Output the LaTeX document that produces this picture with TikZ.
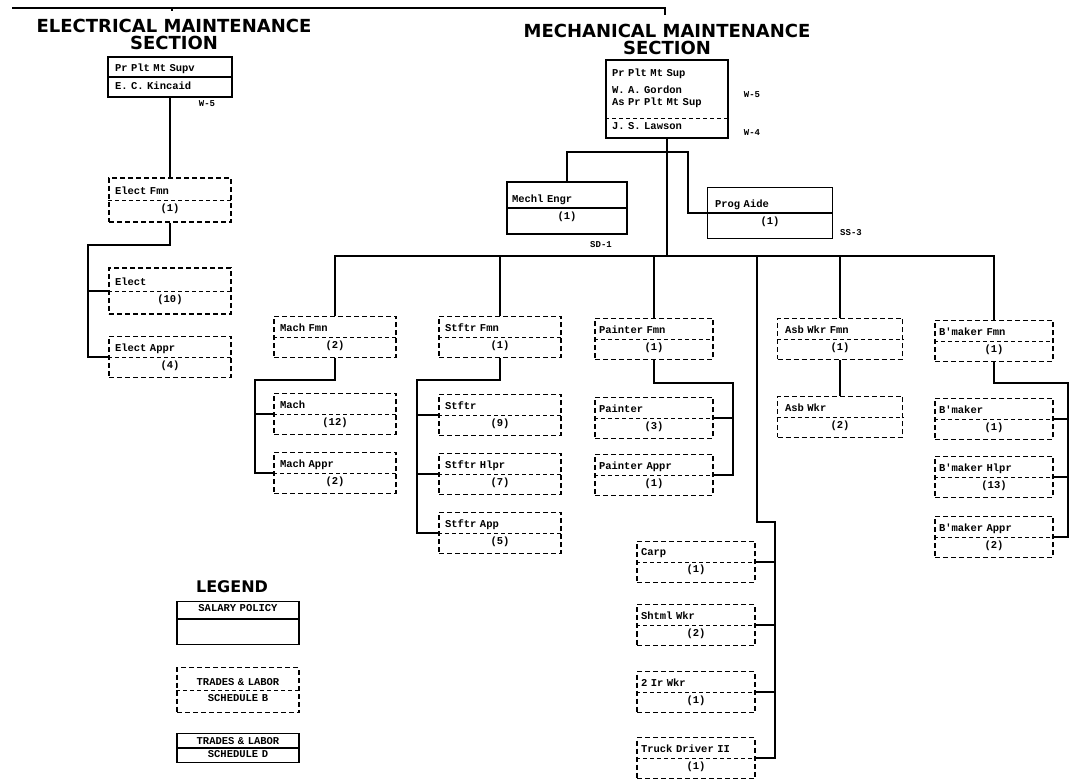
\documentclass[tikz,border=0pt]{standalone}
\usepackage{fontspec}
\setsansfont{DejaVu Sans}
\setmonofont{Liberation Mono}
\usetikzlibrary{positioning}

\newcommand{\jobtext}[2]{#1\\[5pt]\makebox[\hsize]{#2}}

\begin{document}
\begin{tikzpicture}[x=1pt,y=-1pt,node distance=59pt,on grid,
    every node/.style={font=\ttfamily\bfseries\fontsize{10.5}{12}\selectfont},
    wage/.style={draw,dashed,dash pattern=on 5pt off 3pt,line width=1.3pt,
        minimum width=122pt,minimum height=41pt,text width=110pt,align=left,inner sep=0pt},
    salary/.style={wage,solid},
    legendbox/.style={wage,align=center},
    divider/.style={line width=0.9pt,dash pattern=on 4pt off 3pt},
    grade/.style={font=\ttfamily\bfseries\fontsize{9}{10}\selectfont},
    heading/.style={font=\sffamily\bfseries\fontsize{18}{17}\selectfont,align=center},
    line/.style={line width=2.6pt}]
    \useasboundingbox (0,0) rectangle (1072,783);

    % section titles
    \node[heading] (etitle) at (174,34) {ELECTRICAL MAINTENANCE\\SECTION};
    \node[heading] (mtitle) at (667,39) {MECHANICAL MAINTENANCE\\SECTION};
    \coordinate (topl) at (12,8);
    \coordinate (topr) at (665,8);
    \coordinate (topt) at (172,8);
    \draw[line] (topl) -- (topr) -- ++(0,7);
    \draw[line] (topt) -- ++(0,3);

    % heads
    \node[salary,minimum width=124pt,minimum height=40pt] (ehead) at (170,77)
        {Pr Plt Mt Supv\\[6pt]E. C. Kincaid};
    \node[salary,minimum height=78pt] (mhead) at (667,99)
        {Pr Plt Mt Sup\\[5pt]W. A. Gordon\\As Pr Plt Mt Sup\\[12pt]J. S. Lawson};
    \node[grade] (ew5) at (207,104) {W-5};
    \node[grade] (mw5) at (752,95) {W-5};
    \node[grade] (mw4) at (752,133) {W-4};

    % staff
    \node[salary,minimum width=120pt,minimum height=52pt] (mengr) at (567,208) {\jobtext{Mechl Engr}{(1)}};
    \node[salary,minimum width=125pt,minimum height=51pt] (paide) at (770,213) {\jobtext{Prog Aide}{(1)}};
    \node[grade] (sd1) at (601,245) {SD-1};
    \node[grade] (ss3) at (851,233) {SS-3};

    % electrical
    \node[wage,minimum height=44pt] (efmn) at (170,200) {\jobtext{Elect Fmn}{(1)}};
    \node[wage,minimum height=46pt] (elect) at (170,291) {\jobtext{Elect}{(10)}};
    \node[wage] (eappr) [below=66pt of elect] {\jobtext{Elect Appr}{(4)}};

    % mechanical foremen
    \node[wage] (machf) at (335,337) {\jobtext{Mach Fmn}{(2)}};
    \node[wage] (stftrf) at (500,337) {\jobtext{Stftr Fmn}{(1)}};
    \node[wage,minimum width=118pt] (paintf) at (654,339) {\jobtext{Painter Fmn}{(1)}};
    \node[wage,minimum width=125pt] (asbf) at (840,339) {\jobtext{Asb Wkr Fmn}{(1)}};
    \node[wage,minimum width=118pt] (bmakf) at (994,341) {\jobtext{B'maker Fmn}{(1)}};

    % crews
    \node[wage] (mach) [below=77pt of machf] {\jobtext{Mach}{(12)}};
    \node[wage] (machap) [below=of mach] {\jobtext{Mach Appr}{(2)}};
    \node[wage] (stftr) [below=78pt of stftrf] {\jobtext{Stftr}{(9)}};
    \node[wage] (stftrh) [below=of stftr] {\jobtext{Stftr Hlpr}{(7)}};
    \node[wage] (stftra) [below=of stftrh] {\jobtext{Stftr App}{(5)}};
    \node[wage,minimum width=118pt] (paint) [below=79pt of paintf] {\jobtext{Painter}{(3)}};
    \node[wage,minimum width=118pt] (painta) [below=57pt of paint] {\jobtext{Painter Appr}{(1)}};
    \node[wage,minimum width=125pt] (asb) [below=78pt of asbf] {\jobtext{Asb Wkr}{(2)}};
    \node[wage,minimum width=118pt] (bmak) [below=78pt of bmakf] {\jobtext{B'maker}{(1)}};
    \node[wage,minimum width=118pt] (bmakh) [below=58pt of bmak] {\jobtext{B'maker Hlpr}{(13)}};
    \node[wage,minimum width=118pt] (bmaka) [below=60pt of bmakh] {\jobtext{B'maker Appr}{(2)}};
    \node[wage,minimum width=118pt] (carp) at (696,562) {\jobtext{Carp}{(1)}};
    \node[wage,minimum width=118pt] (shtm) [below=63pt of carp] {\jobtext{Shtml Wkr}{(2)}};
    \node[wage,minimum width=118pt] (irwk) [below=67pt of shtm] {\jobtext{2 Ir Wkr}{(1)}};
    \node[wage,minimum width=118pt] (truck) [below=66pt of irwk] {\jobtext{Truck Driver II}{(1)}};

    % dividers
    \foreach \n in {efmn,elect,eappr,machf,stftrf,paintf,asbf,bmakf,mach,machap,
        stftr,stftrh,stftra,paint,painta,asb,bmak,bmakh,bmaka,carp,shtm,irwk,truck}
        \draw[divider] (\n.west) -- (\n.east);
    \draw[line width=1.2pt] (ehead.west) -- (ehead.east);
    \draw[divider] ([yshift=-19pt]mhead.west) -- ([yshift=-19pt]mhead.east);
    \draw[line width=1.2pt] (mengr.west) -- (mengr.east);
    \draw[line width=1.2pt] (paide.west) -- (paide.east);

    % electrical lines
    \coordinate (ebus) at (88,245);
    \draw[line] (ehead.south) -- (efmn.north);
    \draw[line] (efmn.south) |- (ebus) |- (eappr.west);
    \draw[line] (ebus) |- (elect.west);

    % mechanical lines
    \coordinate (busl) at (335,256);
    \coordinate (busr) at (994,256);
    \coordinate (staff) at (688,152);
    \draw[line] (mhead.south) -- (mhead.south |- busl);
    \draw[line] (mengr.north) |- (staff) |- (paide.west);
    \draw[line] (machf.north) -- (busl) -- (busr) -- (bmakf.north);
    \foreach \n in {stftrf,paintf,asbf}
        \draw[line] (\n.north) -- (\n.north |- busl);

    \coordinate (machb) at (255,380);
    \draw[line] (machf.south) |- (machb) |- (machap.west);
    \draw[line] (machb) |- (mach.west);
    \coordinate (stftrb) at (417,380);
    \draw[line] (stftrf.south) |- (stftrb) |- (stftra.west);
    \foreach \n in {stftr,stftrh}
        \draw[line] (stftrb) |- (\n.west);
    \coordinate (paintb) at (733,383);
    \draw[line] (paintf.south) |- (paintb) |- (painta.east);
    \draw[line] (paintb) |- (paint.east);
    \draw[line] (asbf.south) -- (asb.north);
    \coordinate (bmakb) at (1068,383);
    \draw[line] (bmakf.south) |- (bmakb) |- (bmaka.east);
    \foreach \n in {bmak,bmakh}
        \draw[line] (bmakb) |- (\n.east);

    \coordinate (tdrop) at (757,522);
    \coordinate (tbus) at (775,522);
    \draw[line] (tdrop |- busl) -- (tdrop) -- (tbus) |- (truck.east);
    \foreach \n in {carp,shtm,irwk}
        \draw[line] (tbus) |- (\n.east);

    % legend
    \node[heading,font=\sffamily\bfseries\fontsize{16}{18}\selectfont] (legend) at (232,587) {LEGEND};
    \node[legendbox,solid,minimum height=43pt] (lsal) at (238,623) {SALARY POLICY\\[14pt]\strut};
    \node[legendbox,minimum height=45pt] (ltrb) at (238,690) {TRADES \& LABOR\\[4pt]SCHEDULE B};
    \node[legendbox,solid,minimum height=29pt] (ltrd) at (238,748) {TRADES \& LABOR\\[1pt]SCHEDULE D};
    \draw[line width=1.2pt] ([yshift=4pt]lsal.west) -- ([yshift=4pt]lsal.east);
    \draw[divider] (ltrb.west) -- (ltrb.east);
    \draw[line width=1.2pt] (ltrd.west) -- (ltrd.east);
\end{tikzpicture}
\end{document}
